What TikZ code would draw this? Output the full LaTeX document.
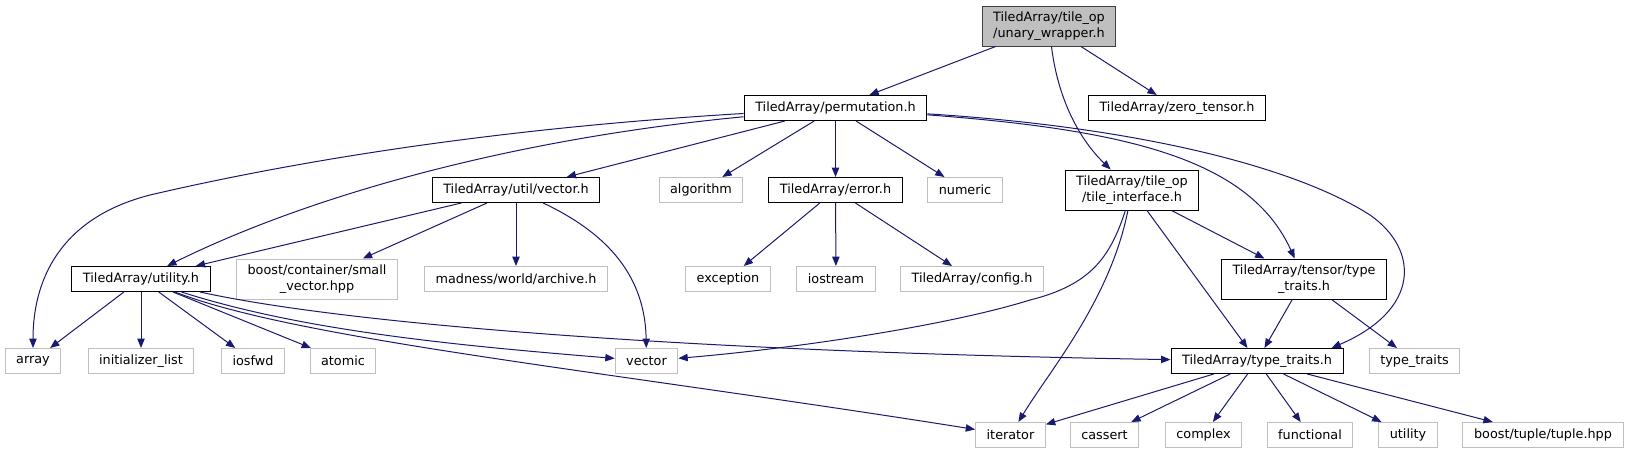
\documentclass[tikz,border=0pt]{standalone}
\usepackage{fontspec}
\setmainfont{DejaVu Sans}
\usetikzlibrary{arrows.meta}
\definecolor{edgeblue}{RGB}{25,25,112}
\definecolor{extgray}{RGB}{191,191,191}
\definecolor{rootfill}{RGB}{191,191,191}
\definecolor{rootline}{RGB}{64,64,64}

\begin{document}
\begin{tikzpicture}[
      x=0.75pt,y=-0.75pt,
      every node/.style={font=\fontsize{9.6}{11.5}\selectfont,
        inner xsep=8.3pt,inner ysep=2pt,minimum height=18.75pt,
        line width=0.75pt},
      doc/.style={draw=black,fill=white},
      ext/.style={draw=extgray,fill=white},
      cur/.style={draw=rootline,fill=rootfill},
      twoline/.style={align=center,minimum height=30pt},
      dep/.style={draw=edgeblue,line width=0.75pt,
        -{Triangle[length=7pt,width=5.5pt]}}
    ]
      \useasboundingbox (0,0) rectangle (1628,455);

      % headers
      \node[cur,twoline] (uw) at (1049,26) {TiledArray/tile\_op\\/unary\_wrapper.h};
      \node[doc] (perm) at (835.5,108) {TiledArray/permutation.h};
      \node[doc] (zt)   at (1177,108)  {TiledArray/zero\_tensor.h};
      \node[doc] (uvec) at (516,190)   {TiledArray/util/vector.h};
      \node[ext] (alg)  at (701,190)   {algorithm};
      \node[doc] (err)  at (835.5,190) {TiledArray/error.h};
      \node[ext] (num)  at (965,190)   {numeric};
      \node[doc,twoline] (ti) at (1132,190) {TiledArray/tile\_op\\/tile\_interface.h};
      \node[doc] (util) at (141,279)   {TiledArray/utility.h};
      \node[ext,twoline] (svec) at (317,279) {boost/container/small\\\_vector.hpp};
      \node[ext] (arch) at (516,279)   {madness/world/archive.h};
      \node[ext] (exc)  at (728,279)   {exception};
      \node[ext] (ios)  at (836,279)   {iostream};
      \node[ext] (cfg)  at (972,279)   {TiledArray/config.h};
      \node[doc,twoline] (ttt) at (1304,279) {TiledArray/tensor/type\\\_traits.h};
      \node[doc] (tt)   at (1257,361)  {TiledArray/type\_traits.h};
      \node[ext] (stt)  at (1414.5,361) {type\_traits};
      \node[ext] (arr)  at (33,361)    {array};
      \node[ext] (il)   at (141,361)   {initializer\_list};
      \node[ext] (iosf) at (253,361)   {iosfwd};
      \node[ext] (atm)  at (343,361)   {atomic};
      \node[ext] (vec)  at (646.5,361) {vector};
      \node[ext] (iter) at (1010.5,435) {iterator};
      \node[ext] (cas)  at (1104.5,435) {cassert};
      \node[ext] (cpx)  at (1203.5,435) {complex};
      \node[ext] (fun)  at (1310,435)  {functional};
      \node[ext] (uty)  at (1408,435)  {utility};
      \node[ext] (tup)  at (1543,435)  {boost/tuple/tuple.hpp};

      % unary_wrapper.h
      \draw[dep] (uw) -- (perm);
      \draw[dep] (uw) -- (zt);
      \draw[dep] (uw) .. controls (1058,100) and (1080,140) .. (ti);

      % permutation.h
      \draw[dep] (perm) .. controls (500,128) and (300,160) .. (150,195)
        .. controls (60,218) and (33,280) .. (arr);
      \draw[dep] (perm) .. controls (500,140) and (300,200) .. (util);
      \draw[dep] (perm) -- (uvec);
      \draw[dep] (perm) -- (alg);
      \draw[dep] (perm) -- (err);
      \draw[dep] (perm) -- (num);
      \draw[dep] (perm) .. controls (1130,130) and (1250,160) .. (ttt);
      \draw[dep] (perm) .. controls (1150,128) and (1300,170) .. (1370,215)
        .. controls (1420,250) and (1420,310) .. ([xshift=-9pt]tt.north east);

      % util/vector.h
      \draw[dep] (uvec) -- (util);
      \draw[dep] (uvec) -- (svec);
      \draw[dep] (uvec) -- (arch);
      \draw[dep] (uvec) .. controls (600,230) and (645,270) .. (vec);

      % error.h
      \draw[dep] (err) -- (exc);
      \draw[dep] (err) -- (ios);
      \draw[dep] (err) -- (cfg);

      % tile_interface.h
      \draw[dep] (ti) .. controls (1110,258) and (1090,285) .. (1030,300)
        .. controls (950,325) and (800,348) .. (vec);
      \draw[dep] (ti) .. controls (1110,300) and (1050,370) .. (iter);
      \draw[dep] (ti) -- (tt);
      \draw[dep] (ti) -- (ttt);

      % tensor/type_traits.h
      \draw[dep] (ttt) -- (tt);
      \draw[dep] (ttt) -- (stt);

      % utility.h
      \draw[dep] (util) -- (arr);
      \draw[dep] (util) -- (il);
      \draw[dep] (util) -- (iosf);
      \draw[dep] (util) -- (atm);
      \draw[dep] (util) .. controls (350,325) and (700,352) .. (tt);
      \draw[dep] (util) .. controls (300,330) and (450,345) .. (vec);
      \draw[dep] (util) .. controls (300,340) and (600,370) .. (iter);

      % type_traits.h
      \draw[dep] (tt) -- (iter);
      \draw[dep] (tt) -- (cas);
      \draw[dep] (tt) -- (cpx);
      \draw[dep] (tt) -- (fun);
      \draw[dep] (tt) -- (uty);
      \draw[dep] (tt) -- (tup);
    \end{tikzpicture}
\end{document}
